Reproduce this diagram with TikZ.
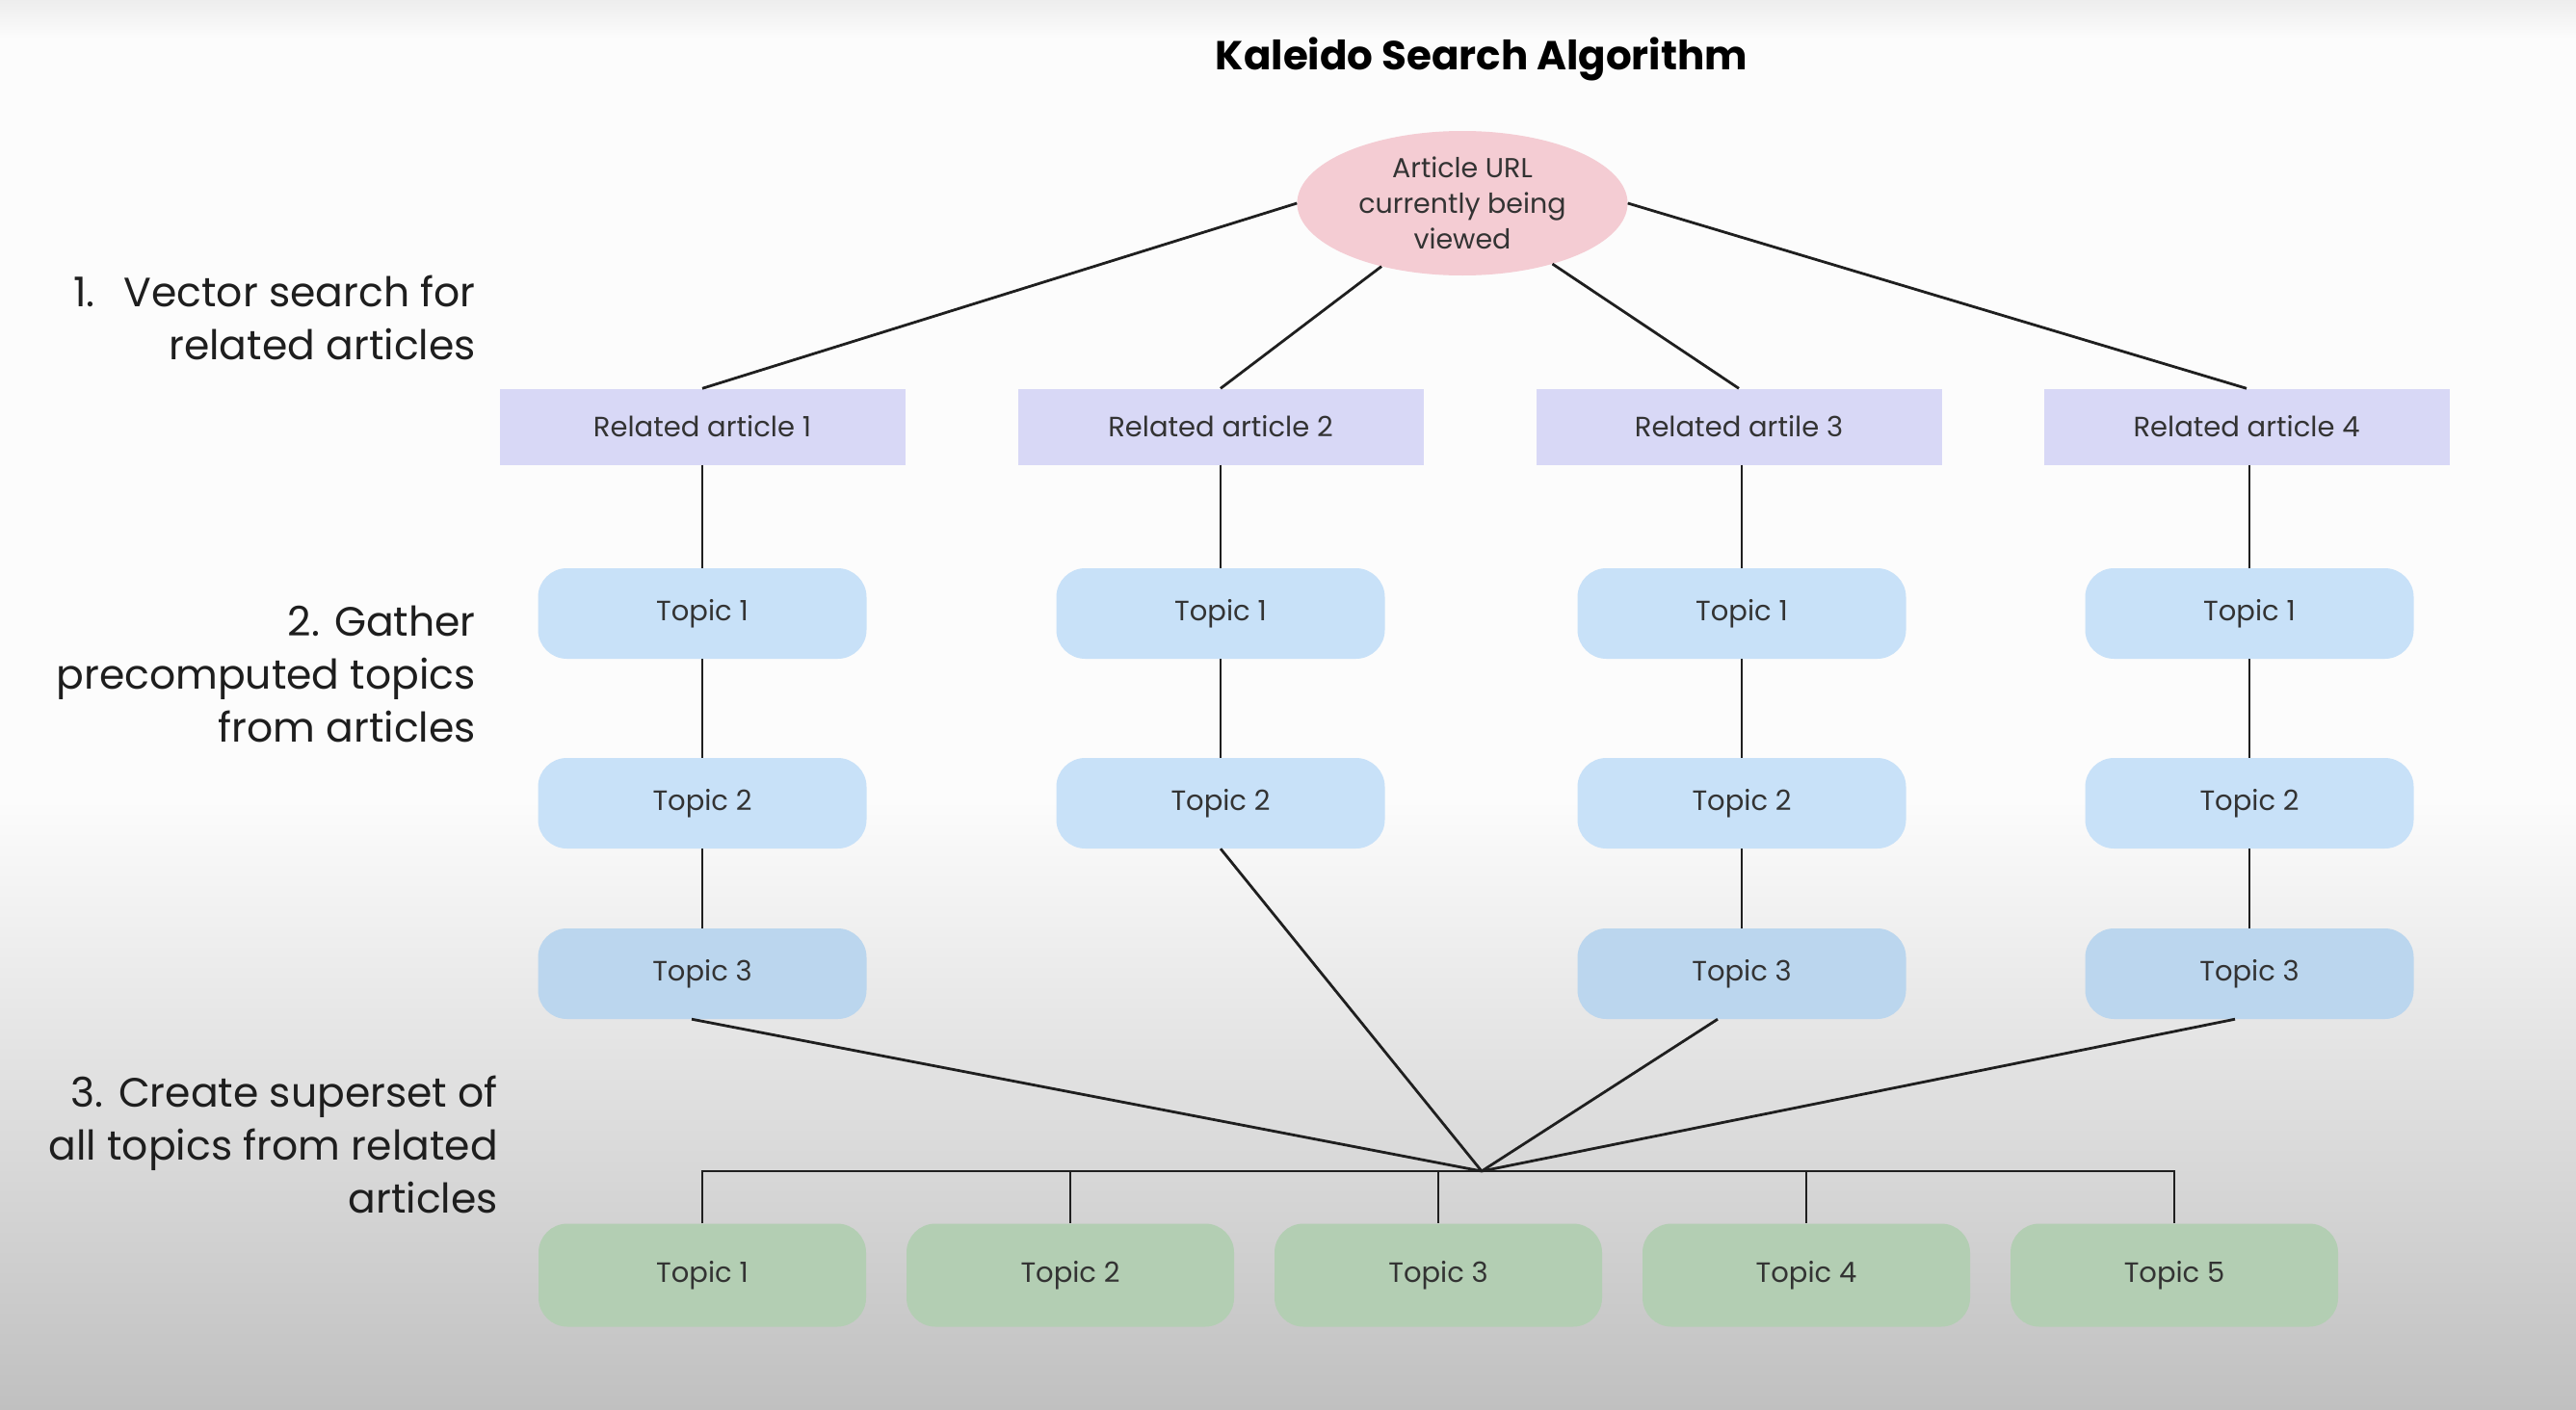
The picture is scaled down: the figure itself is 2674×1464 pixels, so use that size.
\documentclass[tikz,border=0pt]{standalone}
\usepackage{fontspec}
\setmainfont{Poppins}
\usetikzlibrary{shapes.geometric,calc}
\definecolor{pinkfill}{HTML}{F4CCD3}
\definecolor{lav}{HTML}{D8D8F6}
\definecolor{blueA}{HTML}{C8E1F8}
\definecolor{blueB}{HTML}{BBD6EE}
\definecolor{greenA}{HTML}{B3CEB3}
\definecolor{txt}{HTML}{333333}
\definecolor{lbl}{HTML}{1E1E1E}
\definecolor{bgtop}{HTML}{FCFCFC}
\definecolor{bgbot}{HTML}{C0C0C0}
\begin{document}
\begin{tikzpicture}[x=1pt,y=-1pt,
  conn/.style={draw=black!88, line width=2.8pt},
  nfont/.style={font=\fontsize{29}{37}\selectfont, text=txt},
  rabox/.style={rectangle, fill=lav, minimum width=421pt, minimum height=79pt, inner sep=0pt, nfont},
  topicbox/.style={rectangle, rounded corners=30pt, fill=blueA, minimum width=341pt, minimum height=94pt, inner sep=0pt, nfont},
  topicbot/.style={topicbox, fill=blueB},
  supbox/.style={rectangle, rounded corners=30pt, fill=greenA, minimum width=340pt, minimum height=107pt, inner sep=0pt, nfont},
  steplabel/.style={align=right, anchor=east, font=\fontsize{42.5}{55}\selectfont, text=lbl, inner sep=0pt}
]
\useasboundingbox (0,0) rectangle (2674,1464);
\fill[bgtop] (0,0) rectangle (2674,830);
\shade[top color=black!7, bottom color=bgtop] (0,0) rectangle (2674,40);
\shade[top color=bgtop, bottom color=bgbot] (0,830) rectangle (2674,1464);

% title
\node[font=\fontsize{42}{50}\selectfont\bfseries, text=black] (title) at (1538,61) {Kaleido Search Algorithm};

% root
\node[ellipse, fill=pinkfill, minimum width=343pt, minimum height=150pt, inner sep=0pt, align=center, nfont, font=\fontsize{28.5}{37}\selectfont] (url) at (1518,211) {Article URL\\currently being\\viewed};

% related articles
\node[rabox] (ra1) at (729,443) {Related article 1};
\node[rabox] (ra2) at (1267,443) {Related article 2};
\node[rabox] (ra3) at (1805,443) {Related artile 3};
\node[rabox] (ra4) at (2332,443) {Related article 4};

% topics per article
\node[topicbox] (t11) at (729,637) {Topic 1};
\node[topicbox] (t12) at (729,834) {Topic 2};
\node[topicbot] (t13) at (729,1011) {Topic 3};
\node[topicbox] (t21) at (1267,637) {Topic 1};
\node[topicbox] (t22) at (1267,834) {Topic 2};
\node[topicbox] (t31) at (1808,637) {Topic 1};
\node[topicbox] (t32) at (1808,834) {Topic 2};
\node[topicbot] (t33) at (1808,1011) {Topic 3};
\node[topicbox] (t41) at (2335,637) {Topic 1};
\node[topicbox] (t42) at (2335,834) {Topic 2};
\node[topicbot] (t43) at (2335,1011) {Topic 3};

% superset
\node[supbox] (g1) at (729,1324) {Topic 1};
\node[supbox] (g2) at (1111,1324) {Topic 2};
\node[supbox] (g3) at (1493,1324) {Topic 3};
\node[supbox] (g4) at (1875,1324) {Topic 4};
\node[supbox] (g5) at (2257,1324) {Topic 5};
\coordinate (j) at (1538,1216);

% step labels
\node[steplabel] (l1) at (494,330) {1.\hspace{0.7em}Vector search for\\related articles};
\node[steplabel] (l2) at (494,700) {2. Gather\\precomputed topics\\from articles};
\node[steplabel] (l3) at (517,1188) {3. Create superset of\\all topics from related\\articles};

% connectors: root to related articles
\draw[conn] (url.west) -- (ra1.north);
\draw[conn] (url.218) -- (ra2.north);
\draw[conn] (url.326) -- (ra3.north);
\draw[conn] (url.east) -- (ra4.north);

% article to topics
\draw[conn] (ra1.south -| t11.north) -- (t11.north);
\draw[conn] (t11.south) -- (t12.north);
\draw[conn] (t12.south) -- (t13.north);
\draw[conn] (ra2.south -| t21.north) -- (t21.north);
\draw[conn] (t21.south) -- (t22.north);
\draw[conn] (ra3.south -| t31.north) -- (t31.north);
\draw[conn] (t31.south) -- (t32.north);
\draw[conn] (t32.south) -- (t33.north);
\draw[conn] (ra4.south -| t41.north) -- (t41.north);
\draw[conn] (t41.south) -- (t42.north);
\draw[conn] (t42.south) -- (t43.north);

% topics to junction
\draw[conn] ([xshift=-11pt]t13.south) -- (j);
\draw[conn] (t22.south) -- (j);
\draw[conn] ([xshift=-25pt]t33.south) -- (j);
\draw[conn] ([xshift=-15pt]t43.south) -- (j);

% junction bar to superset
\draw[conn] (g1.north) -- (g1.north |- j) -- (g5.north |- j) -- (g5.north);
\draw[conn] (g2.north |- j) -- (g2.north);
\draw[conn] (g3.north |- j) -- (g3.north);
\draw[conn] (g4.north |- j) -- (g4.north);
\end{tikzpicture}
\end{document}
